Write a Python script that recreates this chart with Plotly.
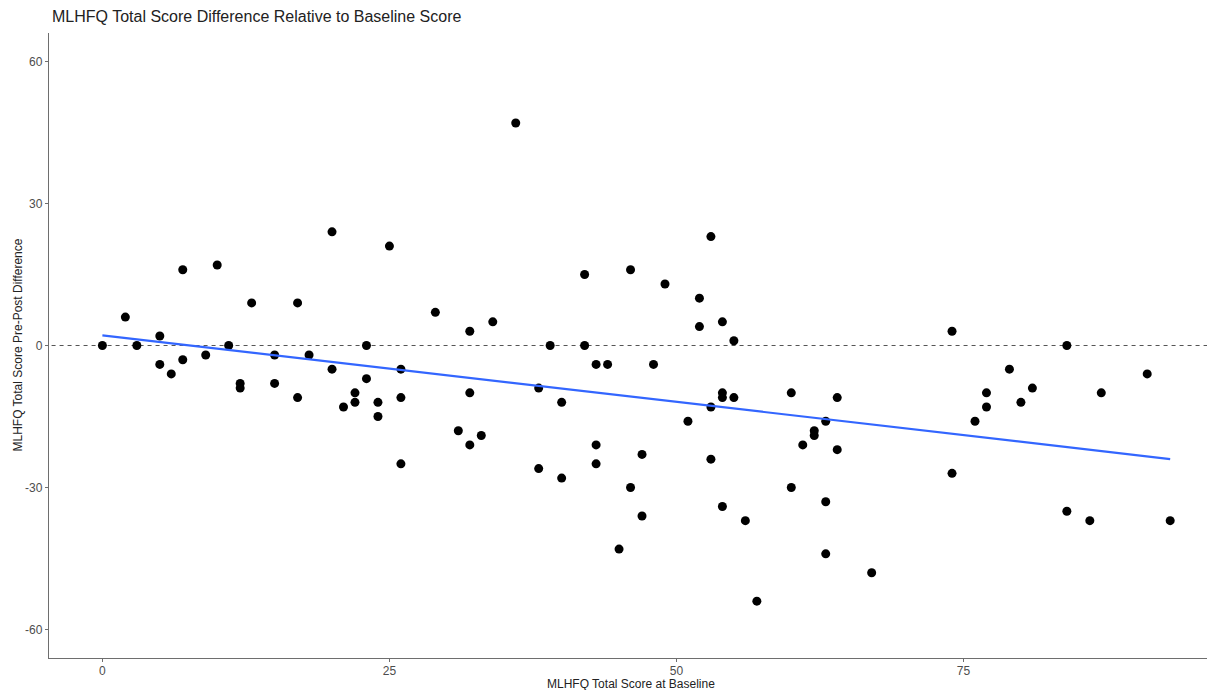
import numpy as np
import plotly.graph_objects as go

baseline = [0, 2, 3, 5, 5, 6, 7, 7, 9, 10, 11, 12, 12, 13, 15, 15, 17, 17, 18, 20, 20, 21,
            22, 22, 23, 23, 24, 24, 25, 26, 26, 26, 29, 31, 32, 32, 32, 33, 34, 36, 38, 38,
            39, 40, 40, 42, 42, 43, 43, 43, 44, 45, 46, 46, 47, 47, 48, 49, 51, 52, 52, 53,
            53, 53, 54, 54, 54, 54, 55, 55, 56, 57, 60, 60, 61, 62, 62, 63, 63, 63, 64, 64,
            67, 74, 74, 76, 77, 77, 79, 80, 81, 84, 84, 86, 87, 91, 93]
difference = [0, 6, 0, 2, -4, -6, 16, -3, -2, 17, 0, -8, -9, 9, -2, -8, 9, -11, -2, 24, -5, -13,
              -10, -12, 0, -7, -12, -15, 21, -5, -11, -25, 7, -18, 3, -10, -21, -19, 5, 47, -9, -26,
              0, -12, -28, 15, 0, -4, -21, -25, -4, -43, 16, -30, -23, -36, -4, 13, -16, 10, 4, 23,
              -13, -24, 5, -10, -11, -34, 1, -11, -37, -54, -10, -30, -21, -18, -19, -16, -33, -44, -11, -22,
              -48, 3, -27, -16, -10, -13, -5, -12, -9, 0, -35, -37, -10, -6, -37]

y_ticks = [-60, -30, 0, 30, 60]
y_tick_labels = ["-60", "-30", "0", "30", "60"]
x_ticks = [0, 25, 50, 75]
x_tick_labels = ["0", "25", "50", "75"]

title_text = "MLHFQ Total Score Difference Relative to Baseline Score"
x_title = "MLHFQ Total Score at Baseline"
y_title = "MLHFQ Total Score Pre-Post Difference"

xa = np.array(baseline, dtype=float)
ya = np.array(difference, dtype=float)
slope, intercept = np.polyfit(xa, ya, 1)
fit_x = np.array([xa.min(), xa.max()])
fit_y = intercept + slope * fit_x

fig = go.Figure()

# reference line at zero
fig.add_trace(go.Scatter(
    x=[-10, 110], y=[0, 0], mode="lines",
    line=dict(color="#555555", width=1.2, dash="4px,4px"),
    hoverinfo="skip", showlegend=False))

fig.add_trace(go.Scatter(
    x=baseline, y=difference, mode="markers",
    marker=dict(color="black", size=9, line=dict(width=0)),
    showlegend=False))

fig.add_trace(go.Scatter(
    x=fit_x, y=fit_y, mode="lines",
    line=dict(color="#3366FF", width=2.2),
    showlegend=False))

axis_common = dict(
    showgrid=False, zeroline=False, showline=True, automargin=False,
    linecolor="#6e6e6e", linewidth=1.3,
    ticks="outside", ticklen=3, tickwidth=1, tickcolor="#6e6e6e",
    tickfont=dict(family="Liberation Sans, Arial, sans-serif", size=12, color="#4D4D4D"),
)

fig.update_layout(
    width=1215, height=682,
    paper_bgcolor="white", plot_bgcolor="white",
    margin=dict(l=41, r=0, t=25, b=32),
    font=dict(family="Liberation Sans, Arial, sans-serif"),
    xaxis=dict(range=[-4.65, 97.6], tickvals=x_ticks, ticktext=x_tick_labels,
               ticklabelstandoff=-2, **axis_common),
    yaxis=dict(range=[-66, 66], tickvals=y_ticks, ticktext=y_tick_labels, **axis_common),
    annotations=[
        dict(text=title_text, xref="paper", yref="paper", x=0.0005, y=1,
             xanchor="left", yanchor="bottom", yshift=6, showarrow=False,
             font=dict(size=16, color="#222222")),
        dict(text=x_title, xref="paper", yref="paper", x=0.4955, y=0,
             xanchor="center", yanchor="top", yshift=-16.5, showarrow=False,
             font=dict(size=12, color="#222222")),
        dict(text=y_title, xref="paper", yref="paper", x=0, y=0.5,
             xanchor="center", yanchor="middle", xshift=-32, textangle=-90,
             showarrow=False, font=dict(size=12, color="#222222")),
    ],
)

fig.write_html("out.html")
